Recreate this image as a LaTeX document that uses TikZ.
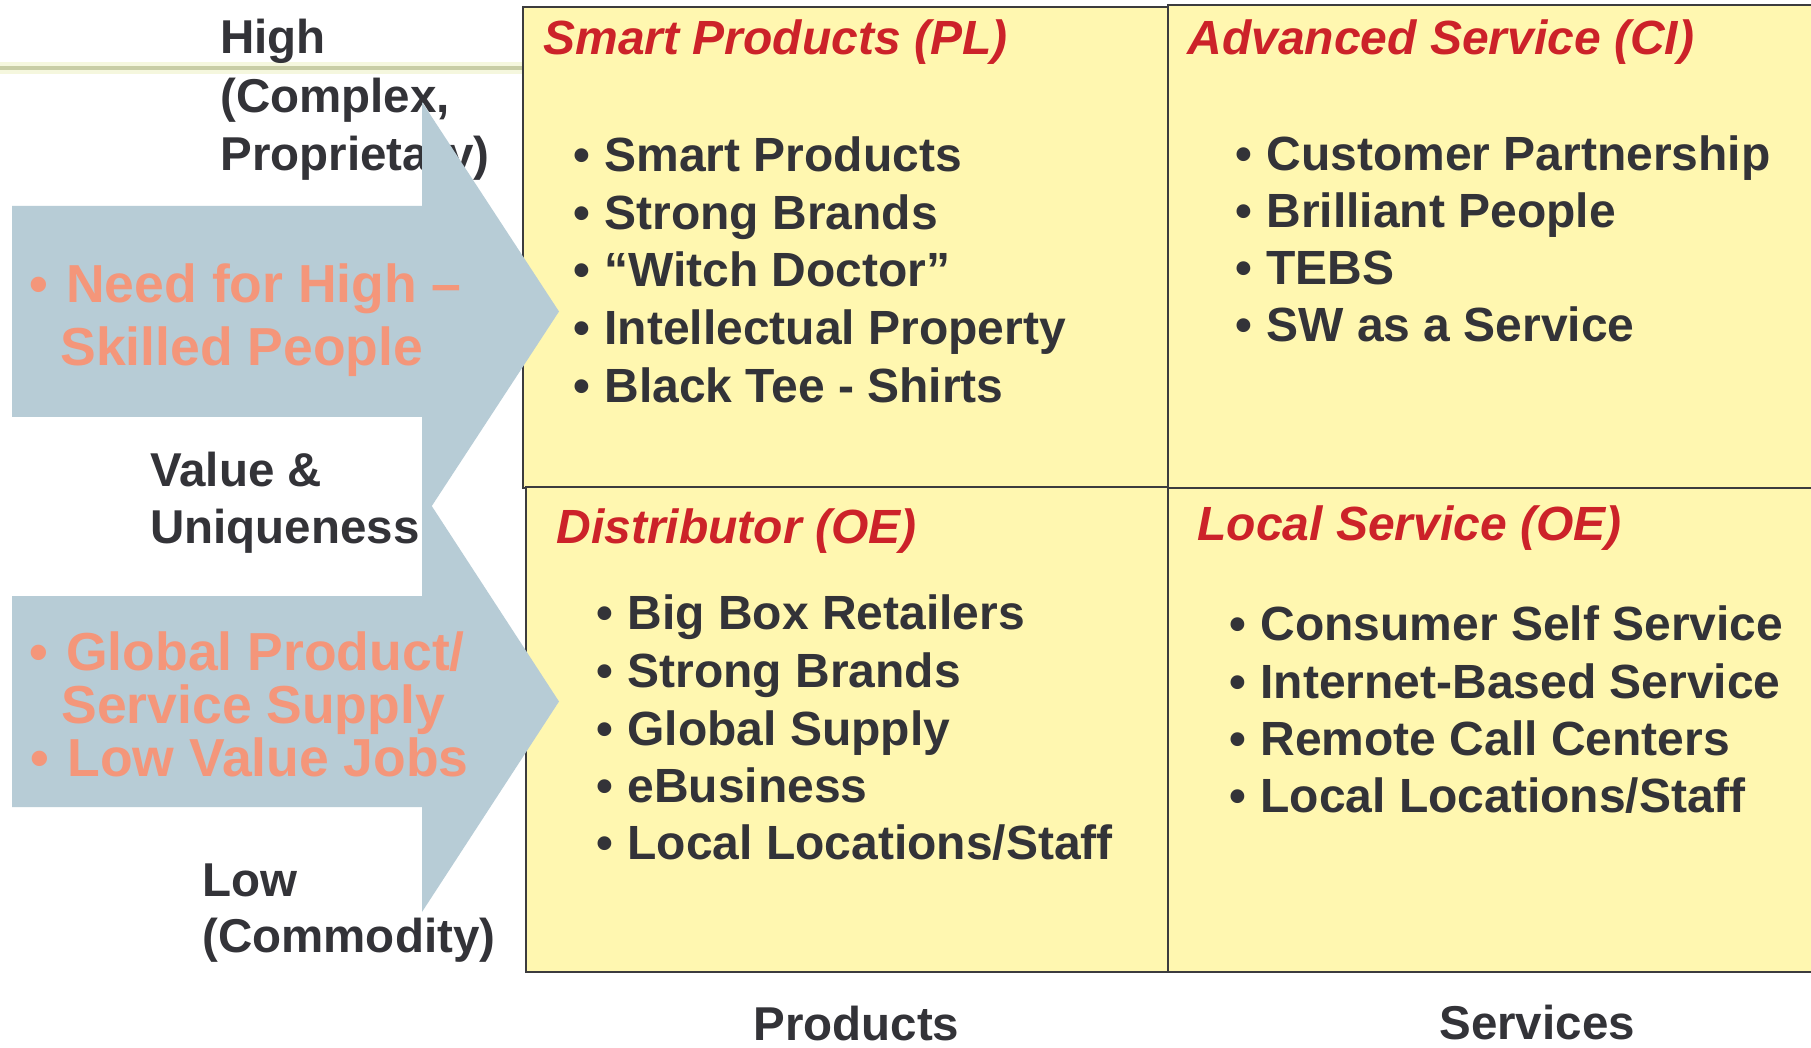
\documentclass[tikz,border=0pt]{standalone}
\usepackage{fontspec}
\setmainfont{Liberation Sans}
\definecolor{boxfill}{RGB}{255,247,176}
\definecolor{boxline}{RGB}{60,60,62}
\definecolor{titlered}{RGB}{204,34,41}
\definecolor{darktext}{RGB}{51,51,56}
\definecolor{salmon}{RGB}{244,150,122}
\definecolor{arrowblue}{RGB}{183,204,214}
\definecolor{hdrglow}{RGB}{245,247,222}
\definecolor{hdrline}{RGB}{200,205,165}
\newcommand\itembullet{\llap{•\hspace{7pt}}}
\newcommand\pinkbullet{\llap{•\hspace{9pt}}}
\begin{document}
\begin{tikzpicture}[x=0.5pt,y=-0.5pt,
  quad/.style={draw=boxline, line width=1.1pt, fill=boxfill, anchor=north west, inner sep=0pt, outer sep=0pt},
  ttl/.style={anchor=base west, inner sep=0pt, text=titlered, font=\fontsize{24}{24}\selectfont\bfseries\itshape},
  item/.style={anchor=base west, inner sep=0pt, text=darktext, font=\fontsize{24}{24}\selectfont\bfseries},
  lbl/.style={anchor=base west, inner sep=0pt, text=darktext, font=\fontsize{23.75}{24}\selectfont\bfseries},
  pink/.style={anchor=base west, inner sep=0pt, text=salmon, font=\fontsize{26.75}{27}\selectfont\bfseries},
  bigarrow/.style={fill=arrowblue}
]
\clip (0,0) rectangle (1811,1048);
\fill[white] (0,0) rectangle (1811,1048);

% header line
\draw[line width=6pt, color=hdrglow] (0,68) -- (523,68);
\draw[line width=1.6pt, color=hdrline] (0,68) -- (523,68);

% quadrants
\node[quad, minimum width=322.5pt, minimum height=240.5pt] (tl) at (523,7) {};
\node[quad, minimum width=325pt, minimum height=241.5pt] (tr) at (1168,5) {};
\node[quad, minimum width=321pt, minimum height=242.5pt] (bl) at (526,487) {};
\node[quad, minimum width=325pt, minimum height=242pt] (br) at (1168,488) {};

% titles
\node[ttl] (tlt) at (543,55) {Smart Products (PL)};
\node[ttl] (trt) at (1187,55) {Advanced Service (CI)};
\node[ttl] (blt) at (556,543) {Distributor (OE)};
\node[ttl] (brt) at (1197,540) {Local Service (OE)};

% top-left items
\node[item] (tl1) at (604,172) {\itembullet Smart Products};
\node[item] (tl2) at (604,230) {\itembullet Strong Brands};
\node[item] (tl3) at (604,287) {\itembullet “Witch Doctor”};
\node[item] (tl4) at (604,344) {\itembullet Intellectual Property};
\node[item] (tl5) at (604,402) {\itembullet Black Tee - Shirts};

% top-right items
\node[item] (tr1) at (1266,171) {\itembullet Customer Partnership};
\node[item] (tr2) at (1266,228) {\itembullet Brilliant People};
\node[item] (tr3) at (1266,285) {\itembullet TEBS};
\node[item] (tr4) at (1266,342) {\itembullet SW as a Service};

% bottom-left items
\node[item] (bl1) at (627,629) {\itembullet Big Box Retailers};
\node[item] (bl2) at (627,687) {\itembullet Strong Brands};
\node[item] (bl3) at (627,745) {\itembullet Global Supply};
\node[item] (bl4) at (627,802) {\itembullet eBusiness};
\node[item] (bl5) at (627,859) {\itembullet Local Locations/Staff};

% bottom-right items
\node[item] (br1) at (1260,640) {\itembullet Consumer Self Service};
\node[item] (br2) at (1260,698) {\itembullet Internet-Based Service};
\node[item] (br3) at (1260,755) {\itembullet Remote Call Centers};
\node[item] (br4) at (1260,812) {\itembullet Local Locations/Staff};

% axis labels
\node[lbl] (hi1) at (220,54) {High};
\node[lbl] (hi2) at (220,113) {(Complex,};
\node[lbl] (hi3) at (220,171) {Proprietary)};
\node[lbl] (va1) at (150,486) {Value \&};
\node[lbl] (va2) at (150,543) {Uniqueness};
\node[lbl] (lo1) at (202,896) {Low};
\node[lbl] (lo2) at (202,952) {(Commodity)};
\node[lbl] (prod) at (753,1040) {Products};
\node[lbl] (serv) at (1439,1039) {Services};

% arrows
\fill[bigarrow] (12,206) -- (422,206) -- (422,102) -- (559,311.5) -- (422,521) -- (422,417) -- (12,417) -- cycle;
\fill[bigarrow] (12,596) -- (422,596) -- (422,491) -- (559,701.5) -- (422,912) -- (422,807) -- (12,807) -- cycle;

% arrow texts
\node[pink] (p1) at (66,303) {\pinkbullet Need for High –};
\node[pink] (p2) at (60,365) {Skilled People};
\node[pink] (p3) at (66,670) {\pinkbullet Global Product/};
\node[pink] (p4) at (61,723) {Service Supply};
\node[pink] (p5) at (67,776) {\pinkbullet Low Value Jobs};
\end{tikzpicture}
\end{document}
